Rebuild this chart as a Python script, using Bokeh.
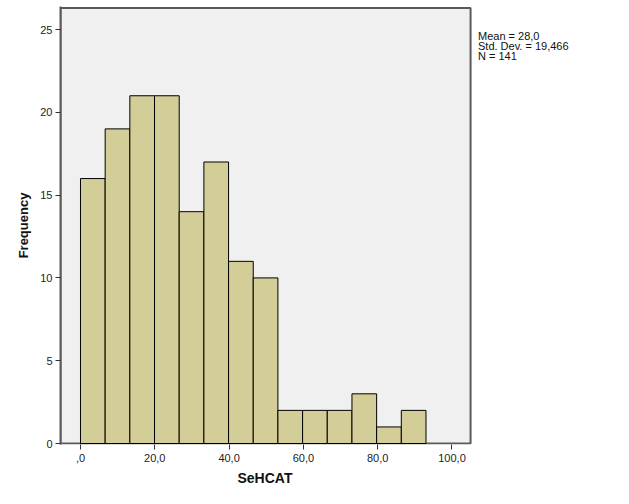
from bokeh.plotting import figure
from bokeh.models import FixedTicker, Range1d, Title
from bokeh.core.properties import value
from bokeh.embed import file_html
from bokeh.resources import INLINE

# Data
counts = [16, 19, 21, 21, 14, 17, 11, 10, 2, 2, 2, 3, 1, 2]
bin_start = 0.0
bin_width = 6.643
x_ticks = [0, 20, 40, 60, 80, 100]
x_tick_labels = [",0", "20,0", "40,0", "60,0", "80,0", "100,0"]
y_ticks = [0, 5, 10, 15, 20, 25]
stats_lines = ["Mean = 28,0", "Std. Dev. = 19,466", "N = 141"]
x_label = "SeHCAT"
y_label = "Frequency"

lefts = [bin_start + i * bin_width for i in range(len(counts))]
rights = [l + bin_width for l in lefts]

FONT = "Liberation Sans"

# plotting box (gray area) limits
box_x0, box_x1 = -5.38, 105.0
box_y0, box_y1 = 0.0, 26.3

p = figure(width=629, height=504, output_backend="svg", toolbar_location=None,
           x_range=Range1d(-5.38, 147.78), y_range=Range1d(-0.06, 26.39),
           min_border_left=60, min_border_right=0, min_border_top=6, min_border_bottom=60)

p.background_fill_color = "white"
p.border_fill_color = "white"
p.outline_line_color = None
p.xgrid.visible = False
p.ygrid.visible = False

# gray plotting box with frame
p.quad(left=[box_x0], right=[box_x1], bottom=[box_y0], top=[box_y1],
       fill_color="#f0f0f0", line_color="#5a5a5a", line_width=2)

p.quad(left=lefts, right=rights, bottom=0, top=counts,
       fill_color="#d3ce97", line_color="black", line_width=1)

for ax in (p.xaxis[0], p.yaxis[0]):
    ax.axis_line_color = "#5a5a5a"
    ax.axis_line_width = 2
    ax.major_tick_line_color = "#333333"
    ax.major_tick_line_width = 1
    ax.major_tick_in = 0
    ax.major_tick_out = 5
    ax.minor_tick_line_color = None
    ax.major_label_text_font = FONT
    ax.major_label_text_font_size = "11px"
    ax.major_label_text_color = "#222222"
    ax.axis_label_text_font = FONT
    ax.axis_label_text_font_style = "bold"
    ax.axis_label_text_color = "#111111"

p.xaxis.axis_line_color = None
p.xaxis.bounds = (box_x0, box_x1)
p.xaxis.ticker = FixedTicker(ticks=x_ticks)
p.xaxis.major_label_overrides = {t: s for t, s in zip(x_ticks, x_tick_labels)}
p.xaxis.major_label_standoff = 4

# x axis label, centred under the gray box
p.add_layout(Title(text=x_label, align="left", offset=177, standoff=6,
                   text_font=FONT, text_font_size="14px", text_font_style="bold",
                   text_color="#111111"), "below")

p.yaxis.ticker = FixedTicker(ticks=y_ticks)
p.yaxis.axis_label = y_label
p.yaxis.axis_label_text_font_size = "13px"
p.yaxis.major_label_standoff = 3
p.yaxis.axis_label_standoff = 6

p.text(x=[107.0] * len(stats_lines),
       y=[24.98 - i * 0.6 for i in range(len(stats_lines))],
       text=stats_lines, text_font=value(FONT), text_font_size="11px",
       text_color="#111111", text_baseline="top", text_align="left",
       text_line_height=1.0)

open("out.html", "w").write(file_html(p, INLINE))
